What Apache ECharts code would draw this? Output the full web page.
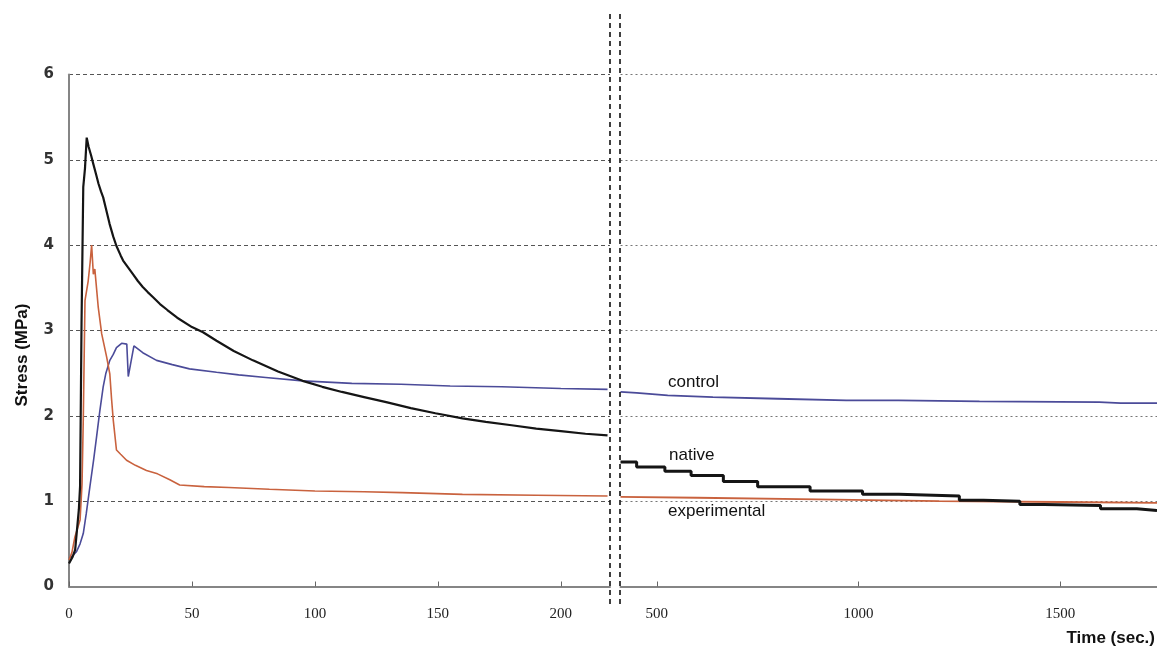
<!DOCTYPE html>
<html>
<head>
<meta charset="utf-8">
<script src="https://cdn.jsdelivr.net/npm/echarts@6/dist/echarts.min.js"></script>
<style>html,body{margin:0;padding:0;background:#fff;}#c{width:1157px;height:650px;}</style>
</head>
<body>
<div id="c"></div>
<script>
// ---- data (time in sec, stress in MPa) ----
const nativeLeftT = [0,1.5,2.5,4,4.5,5.1,5.8,6.5,7.2,8,9,9.9,11,12,13,13.9,15,16.5,18,19.3,21,22,24,26,28,30,32,34.2,37,40,44,50,54.5,60,67,74.8,85,95,103,111,120,129,139,149,160,169.5,180,190,200,210,219];
const nativeLeftV = [0.27,0.35,0.43,0.9,1.17,3.1,4.68,4.9,5.26,5.15,5.05,4.95,4.83,4.72,4.63,4.56,4.43,4.25,4.1,3.99,3.88,3.82,3.74,3.66,3.58,3.51,3.45,3.39,3.31,3.24,3.15,3.04,2.98,2.88,2.76,2.65,2.52,2.41,2.34,2.28,2.22,2.16,2.09,2.03,1.97,1.93,1.89,1.85,1.82,1.79,1.77];
const controlLeftT = [0,1.5,3.1,4.5,5.8,7,8.5,10,11.2,12.5,13.9,15,16.6,18,19.3,21.4,23.5,24.1,25,26.4,30,35.6,42,49,60,69,80,95,115,135,155,176,200,219];
const controlLeftV = [0.33,0.36,0.41,0.5,0.62,0.85,1.17,1.48,1.75,2.05,2.34,2.5,2.65,2.72,2.8,2.85,2.84,2.46,2.6,2.82,2.74,2.65,2.6,2.55,2.51,2.48,2.45,2.41,2.38,2.37,2.35,2.34,2.32,2.31];
const expLeftT = [0,1.2,2.4,4.5,5.3,5.8,6.5,7.8,8.6,9.2,9.9,10.5,11.9,13.3,15.3,16.6,17.3,18,19.3,21,23.4,27,31.5,36,41,45,55,65,81.5,100,120,135.5,160,190,219];
const expLeftV = [0.31,0.4,0.58,0.78,1.2,1.95,3.35,3.58,3.8,4.0,3.66,3.72,3.27,2.96,2.69,2.49,2.2,1.95,1.6,1.55,1.48,1.42,1.36,1.32,1.25,1.19,1.17,1.16,1.14,1.12,1.11,1.10,1.08,1.07,1.06];

const nativeRightT = [410,450,520,585,665,750,880,1010,1100,1250,1310,1400,1460,1600,1690,1740];
const nativeRightV = [1.46,1.40,1.35,1.30,1.23,1.17,1.12,1.08,1.06,1.01,1.00,0.96,0.95,0.91,0.89,0.89];
const controlRightT = [410,450,527,639,800,970,1100,1300,1597,1650,1740];
const controlRightV = [2.28,2.27,2.24,2.22,2.20,2.18,2.18,2.17,2.16,2.15,2.15];
const expRightT = [410,600,900,1200,1500,1740];
const expRightV = [1.05,1.04,1.02,1.00,0.99,0.98];

const yTicks = [0,1,2,3,4,5,6];
const xLeftTicks = [0,50,100,150,200];
const xRightTicks = [500,1000,1500];
const seriesNames = ['native','control','experimental'];

function pairs(t, v){ return t.map((x,i)=>[x, v[i]]); }

// ---- layout ----
const G0 = {left:69, top:74.5, width:541, height:512};
const G1 = {left:620.5, top:74.5, width:537.5, height:512};
const colNative = '#151515', colControl = '#4b4b99', colExp = '#c9623e';
const axisGray = '#858585';

const chart = echarts.init(document.getElementById('c'), null, {renderer:'canvas'});
const xLabelStyle = {fontFamily:'Liberation Serif', fontSize:15, color:'#222', margin:20, formatter:(v)=>String(v)};

chart.setOption({
  animation:false,
  backgroundColor:'#fff',
  grid:[
    {left:G0.left, top:G0.top, width:G0.width, height:G0.height},
    {left:G1.left, top:G1.top, width:G1.width, height:G1.height}
  ],
  xAxis:[
    {type:'value', gridIndex:0, min:0, max:220,
     axisLine:{lineStyle:{color:axisGray,width:2}},
     axisTick:{inside:true,length:5,lineStyle:{color:'#666'},customValues:xLeftTicks},
     axisLabel:Object.assign({customValues:xLeftTicks}, xLabelStyle),
     splitLine:{show:false}},
    {type:'value', gridIndex:1, min:410, max:1740,
     axisLine:{lineStyle:{color:axisGray,width:2}},
     axisTick:{inside:true,length:5,lineStyle:{color:'#666'},customValues:xRightTicks},
     axisLabel:Object.assign({customValues:xRightTicks}, xLabelStyle),
     splitLine:{show:false}}
  ],
  yAxis:[
    {type:'value', gridIndex:0, min:0, max:6, interval:1,
     axisLine:{show:true,lineStyle:{color:axisGray,width:2}},
     axisTick:{show:false},
     axisLabel:{fontFamily:'DejaVu Sans', fontWeight:'bold', fontSize:15, color:'#333', margin:15, customValues:yTicks},
     splitLine:{show:true,lineStyle:{color:'#555',type:[4,3],width:1.2}}},
    {type:'value', gridIndex:1, min:0, max:6, interval:1,
     axisLine:{show:false}, axisTick:{show:false}, axisLabel:{show:false},
     splitLine:{show:true,lineStyle:{color:'#777',type:[2,3],width:1.2}}}
  ],
  series:[
    {name:seriesNames[0], type:'line', xAxisIndex:0, yAxisIndex:0, data:pairs(nativeLeftT,nativeLeftV), showSymbol:false, lineStyle:{color:colNative,width:2.2}, z:3},
    {name:seriesNames[1], type:'line', xAxisIndex:0, yAxisIndex:0, data:pairs(controlLeftT,controlLeftV), showSymbol:false, lineStyle:{color:colControl,width:1.6}, z:2},
    {name:seriesNames[2], type:'line', xAxisIndex:0, yAxisIndex:0, data:pairs(expLeftT,expLeftV), showSymbol:false, lineStyle:{color:colExp,width:1.6}, z:2},
    {name:seriesNames[0], type:'line', xAxisIndex:1, yAxisIndex:1, data:pairs(nativeRightT,nativeRightV), step:'end', showSymbol:false, lineStyle:{color:colNative,width:3}, z:3},
    {name:seriesNames[1], type:'line', xAxisIndex:1, yAxisIndex:1, data:pairs(controlRightT,controlRightV), showSymbol:false, lineStyle:{color:colControl,width:1.8}, z:2},
    {name:seriesNames[2], type:'line', xAxisIndex:1, yAxisIndex:1, data:pairs(expRightT,expRightV), showSymbol:false, lineStyle:{color:colExp,width:1.8}, z:2}
  ],
  graphic:[
    {type:'line', shape:{x1:G0.left+G0.width, y1:14, x2:G0.left+G0.width, y2:607}, style:{stroke:'#111',lineWidth:1.6,lineDash:[5,4]}, z:10},
    {type:'line', shape:{x1:G1.left-0.5, y1:14, x2:G1.left-0.5, y2:607}, style:{stroke:'#111',lineWidth:1.6,lineDash:[5,4]}, z:10},
    {type:'text', x:22, y:355, rotation:Math.PI/2, style:{text:'Stress (MPa)', fontFamily:'Liberation Sans', fontWeight:'bold', fontSize:17, fill:'#111', align:'center', verticalAlign:'middle'}},
    {type:'text', x:1155, y:638, style:{text:'Time (sec.)', fontFamily:'Liberation Sans', fontWeight:'bold', fontSize:17, fill:'#111', align:'right', verticalAlign:'middle'}},
    {type:'text', x:668, y:382, style:{text:'control', fontFamily:'Liberation Sans', fontSize:17, fill:'#111', align:'left', verticalAlign:'middle'}},
    {type:'text', x:669, y:455, style:{text:'native', fontFamily:'Liberation Sans', fontSize:17, fill:'#111', align:'left', verticalAlign:'middle'}},
    {type:'text', x:668, y:511, style:{text:'experimental', fontFamily:'Liberation Sans', fontSize:17, fill:'#111', align:'left', verticalAlign:'middle'}}
  ]
});
</script>
</body>
</html>
